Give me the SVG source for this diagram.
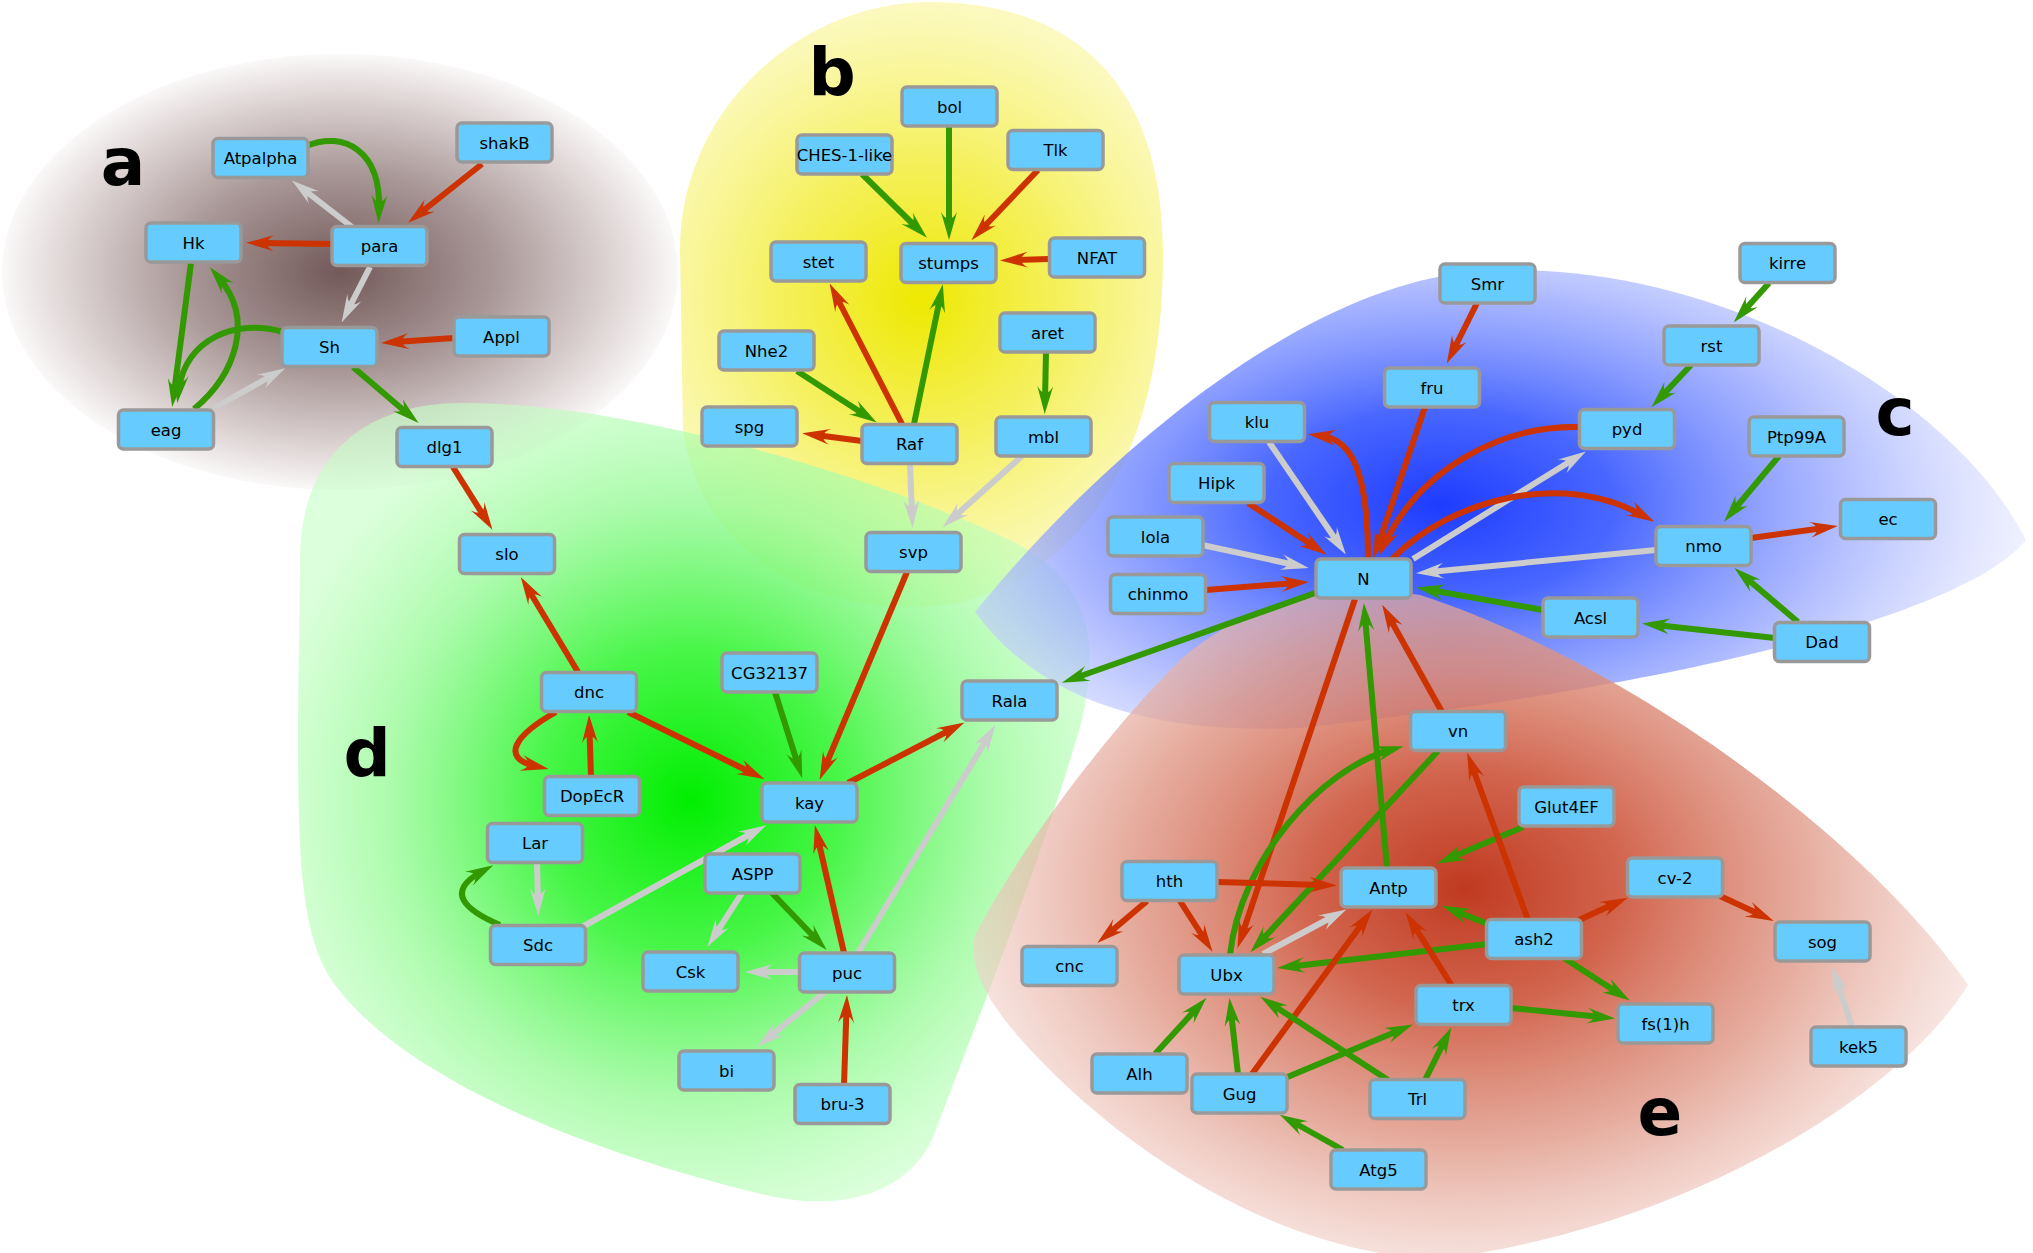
<svg xmlns="http://www.w3.org/2000/svg" width="2033" height="1253" viewBox="0 0 2033 1253">
<style>
.node rect{fill:#66ccff;stroke:#999999;stroke-width:3.5}
.node text{font-family:"DejaVu Sans","Liberation Sans",sans-serif;font-size:16.5px;fill:#000;text-anchor:middle}
.lbl{font-family:"DejaVu Sans","Liberation Sans",sans-serif;font-size:66px;font-weight:bold;fill:#000;text-anchor:middle}
.e{fill:none;stroke-width:6}
.r{stroke:#cc3300;marker-end:url(#mr)}
.g{stroke:#339900;marker-end:url(#mg)}
.w{stroke:#cccccc;marker-end:url(#mw)}
</style>
<defs>
<marker id="mr" viewBox="0 0 28 16" refX="14" refY="8" markerWidth="28" markerHeight="16" markerUnits="userSpaceOnUse" orient="auto"><path d="M0,0 L28,8 L0,16 Q14,8 0,0 Z" fill="#cc3300"/></marker>
<marker id="mg" viewBox="0 0 28 16" refX="14" refY="8" markerWidth="28" markerHeight="16" markerUnits="userSpaceOnUse" orient="auto"><path d="M0,0 L28,8 L0,16 Q14,8 0,0 Z" fill="#339900"/></marker>
<marker id="mw" viewBox="0 0 28 16" refX="14" refY="8" markerWidth="28" markerHeight="16" markerUnits="userSpaceOnUse" orient="auto"><path d="M0,0 L28,8 L0,16 Q14,8 0,0 Z" fill="#cccccc"/></marker>
<radialGradient id="ga" cx="0.5" cy="0.5" r="0.5">
<stop offset="0" stop-color="#735959"/><stop offset="0.45" stop-color="#a89696"/><stop offset="0.8" stop-color="#ddd3d3"/><stop offset="1" stop-color="#faf8f8"/>
</radialGradient>
<radialGradient id="gb" gradientUnits="userSpaceOnUse" cx="920" cy="300" r="330">
<stop offset="0" stop-color="#eee800"/><stop offset="0.45" stop-color="#f4ef50" stop-opacity="0.9"/><stop offset="1" stop-color="#fbf8b0" stop-opacity="0.6"/>
</radialGradient>
<radialGradient id="gc" gradientUnits="userSpaceOnUse" cx="1440" cy="505" r="580" gradientTransform="translate(1440,505) scale(1,0.55) translate(-1440,-505)">
<stop offset="0" stop-color="#1e3cff"/><stop offset="0.3" stop-color="#3f5fff" stop-opacity="0.95"/><stop offset="0.65" stop-color="#8a9cff" stop-opacity="0.75"/><stop offset="1" stop-color="#dfe3ff" stop-opacity="0.55"/>
</radialGradient>
<radialGradient id="gd" gradientUnits="userSpaceOnUse" cx="690" cy="800" r="430">
<stop offset="0" stop-color="#00ee00"/><stop offset="0.35" stop-color="#3ff53f" stop-opacity="0.95"/><stop offset="0.7" stop-color="#98fa98" stop-opacity="0.8"/><stop offset="1" stop-color="#c4ffc4" stop-opacity="0.6"/>
</radialGradient>
<radialGradient id="ge" gradientUnits="userSpaceOnUse" cx="1465" cy="889" r="520" gradientTransform="translate(1465,889) scale(1,0.75) translate(-1465,-889)">
<stop offset="0" stop-color="#c03a20"/><stop offset="0.3" stop-color="#cf5c44" stop-opacity="0.95"/><stop offset="0.65" stop-color="#df9684" stop-opacity="0.8"/><stop offset="1" stop-color="#f4d8d2" stop-opacity="0.6"/>
</radialGradient>
</defs>
<g id="background">
<rect x="0" y="0" width="2033" height="1253" fill="#ffffff"/>
<ellipse cx="340" cy="272" rx="338" ry="218" fill="url(#ga)"/>
<path d="M680,250 C680,110 800,2 930,2 C1060,2 1162,70 1163,250 C1164,420 1110,560 960,603 C830,625 700,560 683,430 Z" fill="url(#gb)"/>
<path d="M300,560 C300,460 360,404 460,403 C620,402 860,470 1010,540 C1090,580 1100,640 1082,720 C1045,850 985,1000 932,1140 C905,1195 840,1212 765,1195 C600,1155 410,1085 335,985 C292,925 297,820 300,560 Z" fill="url(#gd)"/>
<path d="M975,612 C1090,470 1290,290 1470,272 C1700,252 1950,390 2026,540 C1960,620 1650,690 1300,728 C1150,735 1040,700 975,612 Z" fill="url(#gc)"/>
<path d="M975,935 C1020,850 1100,740 1180,660 C1250,600 1330,580 1420,595 C1620,660 1860,830 1968,985 C1900,1095 1700,1215 1480,1253 L1380,1253 C1250,1230 1130,1150 1050,1070 C1000,1020 965,975 975,935 Z" fill="url(#ge)"/>
</g>
<g id="labels">
<text class="lbl" x="123" y="185">a</text>
<text class="lbl" x="832" y="95">b</text>
<text class="lbl" x="1895" y="435">c</text>
<text class="lbl" x="367" y="776">d</text>
<text class="lbl" x="1660" y="1135">e</text>
</g>
<g id="connectors">
<path class="e g" d="M306,146 C345,130 381,152 379,209"/>
<path class="e w" d="M352,227 L303,189"/>
<path class="e r" d="M482,164 L419,214"/>
<path class="e r" d="M333,244 L260,243"/>
<path class="e w" d="M370,267 L348,310"/>
<path class="e r" d="M454,338 L395,342"/>
<path class="e g" d="M191,263 L174,393"/>
<path class="e g" d="M194,409 C235,375 255,320 219,278"/>
<path class="e g" d="M283,332 C235,318 185,340 179,389"/>
<path class="e w" d="M214,408 L273,375"/>
<path class="e g" d="M353,367 L408,414"/>
<path class="e g" d="M862,174 L917,228"/>
<path class="e g" d="M949,126 L949,226"/>
<path class="e r" d="M1038,170 L981,230"/>
<path class="e r" d="M1049,259 L1014,260"/>
<path class="e r" d="M902,424 L836,296"/>
<path class="e g" d="M914,424 L940,298"/>
<path class="e g" d="M797,371 L865,415"/>
<path class="e r" d="M862,441 L816,435"/>
<path class="e g" d="M1046,352 L1045,400"/>
<path class="e w" d="M910,464 L912,514"/>
<path class="e w" d="M1022,456 L953,518"/>
<path class="e r" d="M1477,303 L1453,351"/>
<path class="e g" d="M1769,283 L1743,312"/>
<path class="e g" d="M1691,365 L1661,397"/>
<path class="e r" d="M1425,407 L1378,545"/>
<path class="e r" d="M1368,559 C1368,480 1355,440 1322,436"/>
<path class="e r" d="M1580,427 C1500,425 1420,470 1385,543"/>
<path class="e w" d="M1413,559 L1574,459"/>
<path class="e r" d="M1392,559 C1450,500 1560,470 1642,515"/>
<path class="e w" d="M1269,442 L1338,543"/>
<path class="e r" d="M1248,503 L1315,547"/>
<path class="e w" d="M1202,545 L1295,565"/>
<path class="e r" d="M1206,590 L1295,583"/>
<path class="e w" d="M1656,550 L1430,572"/>
<path class="e g" d="M1543,610 L1430,590"/>
<path class="e r" d="M1751,538 L1824,528"/>
<path class="e g" d="M1779,456 L1733,511"/>
<path class="e g" d="M1798,622 L1745,577"/>
<path class="e g" d="M1775,638 L1656,625"/>
<path class="e r" d="M453,467 L485,518"/>
<path class="e r" d="M578,672 L528,589"/>
<path class="e r" d="M556,712 C515,735 500,758 535,766"/>
<path class="e r" d="M591,777 L589.5,729"/>
<path class="e r" d="M628,712 L752,773"/>
<path class="e g" d="M775,692 L798,765"/>
<path class="e r" d="M907,572 L825,767"/>
<path class="e r" d="M848,783 L952,729"/>
<path class="e g" d="M1318,592 L1075,678"/>
<path class="e w" d="M858,953 L988,737"/>
<path class="e w" d="M582,927 L754,832"/>
<path class="e g" d="M772,893 L817,940"/>
<path class="e w" d="M742,893 L715,935"/>
<path class="e w" d="M799,972 L759,972"/>
<path class="e r" d="M844,953 L818,839"/>
<path class="e w" d="M825,992 L768,1038"/>
<path class="e r" d="M844,1085 L846.5,1009"/>
<path class="e w" d="M537,862 L538,902"/>
<path class="e g" d="M500,925 C465,910 445,892 481,872"/>
<path class="e r" d="M1355,599 L1242,935"/>
<path class="e g" d="M1387,868 L1365,617"/>
<path class="e r" d="M1442,712 L1389,617"/>
<path class="e g" d="M1230,955 C1240,860 1320,770 1390,750"/>
<path class="e g" d="M1438,751 L1260,942"/>
<path class="e r" d="M1217,882 L1323,885"/>
<path class="e r" d="M1147,901 L1108,934"/>
<path class="e r" d="M1180,901 L1205,940"/>
<path class="e w" d="M1263,954 L1334,916"/>
<path class="e g" d="M1523,827 L1450,858"/>
<path class="e r" d="M1528,920 L1472,766"/>
<path class="e g" d="M1488,924 L1455,911"/>
<path class="e g" d="M1487,944 L1291,966.5"/>
<path class="e r" d="M1452,986 L1413,924"/>
<path class="e r" d="M1252,1074 L1364,921"/>
<path class="e g" d="M1155,1054 L1197,1008"/>
<path class="e g" d="M1238,1074 L1231,1012"/>
<path class="e g" d="M1388,1080 L1272,1004.5"/>
<path class="e g" d="M1285,1078 L1400,1030"/>
<path class="e g" d="M1425,1080 L1445,1040"/>
<path class="e g" d="M1343,1150 L1292,1121.5"/>
<path class="e r" d="M1579,920 L1615,903.5"/>
<path class="e r" d="M1720,896 L1761,915"/>
<path class="e g" d="M1564,958 L1618,993"/>
<path class="e g" d="M1511,1008 L1601,1017"/>
<path class="e w" d="M1852,1027 L1836.5,980"/>
</g>
<g id="nodes">
<g id="n-Atpalpha" class="node" transform="translate(260.5,158)"><rect x="-47.5" y="-19.5" width="95" height="39" rx="5"/><text y="6">Atpalpha</text></g>
<g id="n-shakB" class="node" transform="translate(504.5,142.5)"><rect x="-47.5" y="-19.5" width="95" height="39" rx="5"/><text y="6">shakB</text></g>
<g id="n-Hk" class="node" transform="translate(193.5,242.5)"><rect x="-47.5" y="-19.5" width="95" height="39" rx="5"/><text y="6">Hk</text></g>
<g id="n-para" class="node" transform="translate(379.5,246)"><rect x="-47.5" y="-19.5" width="95" height="39" rx="5"/><text y="6">para</text></g>
<g id="n-Sh" class="node" transform="translate(329.5,347)"><rect x="-47.5" y="-19.5" width="95" height="39" rx="5"/><text y="6">Sh</text></g>
<g id="n-Appl" class="node" transform="translate(501.5,336.5)"><rect x="-47.5" y="-19.5" width="95" height="39" rx="5"/><text y="6">Appl</text></g>
<g id="n-eag" class="node" transform="translate(166,429.5)"><rect x="-47.5" y="-19.5" width="95" height="39" rx="5"/><text y="6">eag</text></g>
<g id="n-dlg1" class="node" transform="translate(444.5,447)"><rect x="-47.5" y="-19.5" width="95" height="39" rx="5"/><text y="6">dlg1</text></g>
<g id="n-bol" class="node" transform="translate(949.5,106.5)"><rect x="-47.5" y="-19.5" width="95" height="39" rx="5"/><text y="6">bol</text></g>
<g id="n-CHES-1-like" class="node" transform="translate(844.5,154.5)"><rect x="-47.5" y="-19.5" width="95" height="39" rx="5"/><text y="6">CHES-1-like</text></g>
<g id="n-Tlk" class="node" transform="translate(1055.5,150)"><rect x="-47.5" y="-19.5" width="95" height="39" rx="5"/><text y="6">Tlk</text></g>
<g id="n-stet" class="node" transform="translate(818.5,261.5)"><rect x="-47.5" y="-19.5" width="95" height="39" rx="5"/><text y="6">stet</text></g>
<g id="n-stumps" class="node" transform="translate(948.5,263)"><rect x="-47.5" y="-19.5" width="95" height="39" rx="5"/><text y="6">stumps</text></g>
<g id="n-NFAT" class="node" transform="translate(1097,257.5)"><rect x="-47.5" y="-19.5" width="95" height="39" rx="5"/><text y="6">NFAT</text></g>
<g id="n-Nhe2" class="node" transform="translate(766.5,350.5)"><rect x="-47.5" y="-19.5" width="95" height="39" rx="5"/><text y="6">Nhe2</text></g>
<g id="n-aret" class="node" transform="translate(1047.5,332.5)"><rect x="-47.5" y="-19.5" width="95" height="39" rx="5"/><text y="6">aret</text></g>
<g id="n-spg" class="node" transform="translate(749.5,426.5)"><rect x="-47.5" y="-19.5" width="95" height="39" rx="5"/><text y="6">spg</text></g>
<g id="n-Raf" class="node" transform="translate(909.5,444)"><rect x="-47.5" y="-19.5" width="95" height="39" rx="5"/><text y="6">Raf</text></g>
<g id="n-mbl" class="node" transform="translate(1043.5,436.5)"><rect x="-47.5" y="-19.5" width="95" height="39" rx="5"/><text y="6">mbl</text></g>
<g id="n-svp" class="node" transform="translate(913.5,552)"><rect x="-47.5" y="-19.5" width="95" height="39" rx="5"/><text y="6">svp</text></g>
<g id="n-kirre" class="node" transform="translate(1787.5,263)"><rect x="-47.5" y="-19.5" width="95" height="39" rx="5"/><text y="6">kirre</text></g>
<g id="n-Smr" class="node" transform="translate(1487.5,283.5)"><rect x="-47.5" y="-19.5" width="95" height="39" rx="5"/><text y="6">Smr</text></g>
<g id="n-rst" class="node" transform="translate(1711.5,345.5)"><rect x="-47.5" y="-19.5" width="95" height="39" rx="5"/><text y="6">rst</text></g>
<g id="n-fru" class="node" transform="translate(1432,387.5)"><rect x="-47.5" y="-19.5" width="95" height="39" rx="5"/><text y="6">fru</text></g>
<g id="n-klu" class="node" transform="translate(1257,422)"><rect x="-47.5" y="-19.5" width="95" height="39" rx="5"/><text y="6">klu</text></g>
<g id="n-pyd" class="node" transform="translate(1627,429)"><rect x="-47.5" y="-19.5" width="95" height="39" rx="5"/><text y="6">pyd</text></g>
<g id="n-Ptp99A" class="node" transform="translate(1796.5,436.5)"><rect x="-47.5" y="-19.5" width="95" height="39" rx="5"/><text y="6">Ptp99A</text></g>
<g id="n-Hipk" class="node" transform="translate(1216.5,483)"><rect x="-47.5" y="-19.5" width="95" height="39" rx="5"/><text y="6">Hipk</text></g>
<g id="n-lola" class="node" transform="translate(1155.5,536.5)"><rect x="-47.5" y="-19.5" width="95" height="39" rx="5"/><text y="6">lola</text></g>
<g id="n-nmo" class="node" transform="translate(1703.5,546)"><rect x="-47.5" y="-19.5" width="95" height="39" rx="5"/><text y="6">nmo</text></g>
<g id="n-ec" class="node" transform="translate(1888,519)"><rect x="-47.5" y="-19.5" width="95" height="39" rx="5"/><text y="6">ec</text></g>
<g id="n-N" class="node" transform="translate(1363.5,578.5)"><rect x="-47.5" y="-19.5" width="95" height="39" rx="5"/><text y="6">N</text></g>
<g id="n-chinmo" class="node" transform="translate(1158,594)"><rect x="-47.5" y="-19.5" width="95" height="39" rx="5"/><text y="6">chinmo</text></g>
<g id="n-Acsl" class="node" transform="translate(1590.5,617.5)"><rect x="-47.5" y="-19.5" width="95" height="39" rx="5"/><text y="6">Acsl</text></g>
<g id="n-Dad" class="node" transform="translate(1822,642)"><rect x="-47.5" y="-19.5" width="95" height="39" rx="5"/><text y="6">Dad</text></g>
<g id="n-slo" class="node" transform="translate(507,554)"><rect x="-47.5" y="-19.5" width="95" height="39" rx="5"/><text y="6">slo</text></g>
<g id="n-dnc" class="node" transform="translate(589,692)"><rect x="-47.5" y="-19.5" width="95" height="39" rx="5"/><text y="6">dnc</text></g>
<g id="n-DopEcR" class="node" transform="translate(592,796)"><rect x="-47.5" y="-19.5" width="95" height="39" rx="5"/><text y="6">DopEcR</text></g>
<g id="n-Lar" class="node" transform="translate(535,843)"><rect x="-47.5" y="-19.5" width="95" height="39" rx="5"/><text y="6">Lar</text></g>
<g id="n-Sdc" class="node" transform="translate(538,945)"><rect x="-47.5" y="-19.5" width="95" height="39" rx="5"/><text y="6">Sdc</text></g>
<g id="n-CG32137" class="node" transform="translate(769.5,672.5)"><rect x="-47.5" y="-19.5" width="95" height="39" rx="5"/><text y="6">CG32137</text></g>
<g id="n-kay" class="node" transform="translate(809.5,802.5)"><rect x="-47.5" y="-19.5" width="95" height="39" rx="5"/><text y="6">kay</text></g>
<g id="n-Rala" class="node" transform="translate(1009.5,700.5)"><rect x="-47.5" y="-19.5" width="95" height="39" rx="5"/><text y="6">Rala</text></g>
<g id="n-ASPP" class="node" transform="translate(752.5,873.5)"><rect x="-47.5" y="-19.5" width="95" height="39" rx="5"/><text y="6">ASPP</text></g>
<g id="n-Csk" class="node" transform="translate(690.5,971.5)"><rect x="-47.5" y="-19.5" width="95" height="39" rx="5"/><text y="6">Csk</text></g>
<g id="n-puc" class="node" transform="translate(847,972.5)"><rect x="-47.5" y="-19.5" width="95" height="39" rx="5"/><text y="6">puc</text></g>
<g id="n-bi" class="node" transform="translate(726.5,1070.5)"><rect x="-47.5" y="-19.5" width="95" height="39" rx="5"/><text y="6">bi</text></g>
<g id="n-bru-3" class="node" transform="translate(842.5,1104)"><rect x="-47.5" y="-19.5" width="95" height="39" rx="5"/><text y="6">bru-3</text></g>
<g id="n-vn" class="node" transform="translate(1458,731)"><rect x="-47.5" y="-19.5" width="95" height="39" rx="5"/><text y="6">vn</text></g>
<g id="n-Glut4EF" class="node" transform="translate(1566.5,806.5)"><rect x="-47.5" y="-19.5" width="95" height="39" rx="5"/><text y="6">Glut4EF</text></g>
<g id="n-hth" class="node" transform="translate(1169.5,881)"><rect x="-47.5" y="-19.5" width="95" height="39" rx="5"/><text y="6">hth</text></g>
<g id="n-Antp" class="node" transform="translate(1388.5,887.5)"><rect x="-47.5" y="-19.5" width="95" height="39" rx="5"/><text y="6">Antp</text></g>
<g id="n-cv-2" class="node" transform="translate(1675,877.5)"><rect x="-47.5" y="-19.5" width="95" height="39" rx="5"/><text y="6">cv-2</text></g>
<g id="n-ash2" class="node" transform="translate(1534,939)"><rect x="-47.5" y="-19.5" width="95" height="39" rx="5"/><text y="6">ash2</text></g>
<g id="n-sog" class="node" transform="translate(1822.5,941.5)"><rect x="-47.5" y="-19.5" width="95" height="39" rx="5"/><text y="6">sog</text></g>
<g id="n-cnc" class="node" transform="translate(1069.5,966)"><rect x="-47.5" y="-19.5" width="95" height="39" rx="5"/><text y="6">cnc</text></g>
<g id="n-Ubx" class="node" transform="translate(1226.5,974.5)"><rect x="-47.5" y="-19.5" width="95" height="39" rx="5"/><text y="6">Ubx</text></g>
<g id="n-trx" class="node" transform="translate(1463.5,1005)"><rect x="-47.5" y="-19.5" width="95" height="39" rx="5"/><text y="6">trx</text></g>
<g id="n-fs1h" class="node" transform="translate(1665.5,1023.5)"><rect x="-47.5" y="-19.5" width="95" height="39" rx="5"/><text y="6">fs(1)h</text></g>
<g id="n-kek5" class="node" transform="translate(1858.5,1046.5)"><rect x="-47.5" y="-19.5" width="95" height="39" rx="5"/><text y="6">kek5</text></g>
<g id="n-Alh" class="node" transform="translate(1139.5,1073.5)"><rect x="-47.5" y="-19.5" width="95" height="39" rx="5"/><text y="6">Alh</text></g>
<g id="n-Gug" class="node" transform="translate(1239.5,1093.5)"><rect x="-47.5" y="-19.5" width="95" height="39" rx="5"/><text y="6">Gug</text></g>
<g id="n-Trl" class="node" transform="translate(1417.5,1099)"><rect x="-47.5" y="-19.5" width="95" height="39" rx="5"/><text y="6">Trl</text></g>
<g id="n-Atg5" class="node" transform="translate(1378.5,1169.5)"><rect x="-47.5" y="-19.5" width="95" height="39" rx="5"/><text y="6">Atg5</text></g>
</g>
</svg>
